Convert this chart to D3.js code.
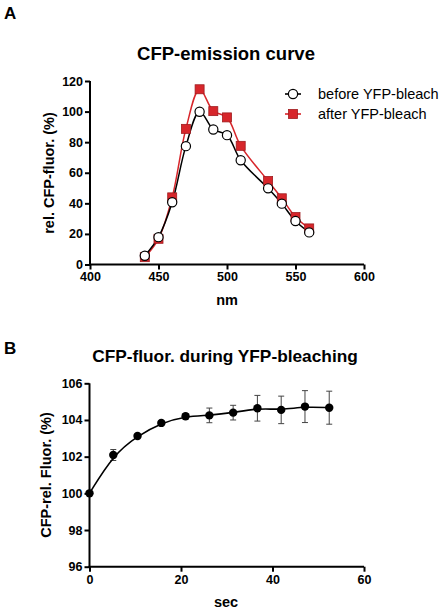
<!DOCTYPE html>
<html><head><meta charset="utf-8">
<script src="https://cdn.jsdelivr.net/npm/d3@7"></script>
<style>
html,body{margin:0;padding:0;background:#fff;}
svg{display:block;font-family:"Liberation Sans",Arial,sans-serif;}
</style></head><body>
<svg id="c" width="446" height="611"></svg>
<script>
// Panel A data
const wavelengths = [440,450,460,470,480,490,500,510,530,540,550,560];
const beforeBleach = [5.7,17.9,40.7,77.4,99.9,88.3,84.6,68.2,49.8,39.8,28.4,21.0];
const afterBleach  = [4.8,16.8,43.9,88.7,114.6,100.3,96.2,77.6,54.6,43.3,31.0,23.6];
const seriesNames = ["before YFP-bleach","after YFP-bleach"];
const xTicksA = [400,450,500,550,600];
const yTicksA = [0,20,40,60,80,100,120];

// Panel B data
const timeSec = [0,5.2,10.5,15.7,21.0,26.2,31.4,36.7,41.9,47.1,52.4];
const relFluor = [100,102.09,103.13,103.84,104.2,104.25,104.4,104.64,104.55,104.73,104.67];
const relFluorErr = [0,0.3,0.1,0.1,0.15,0.4,0.4,0.7,0.75,0.87,0.9];
const xTicksB = [0,20,40,60];
const yTicksB = [96,98,100,102,104,106];

const svg = d3.select("#c");
const red = "#d7262b", redDark = "#a01c1f";

function axes(g, x, y, xt, yt){
  const x0 = x.range()[0], x1 = x.range()[1], y0 = y.range()[0], y1 = y.range()[1];
  const ya = g.append("g").attr("transform","translate(" + x0 + ",0)")
    .call(d3.axisLeft(y).tickValues(yt).tickSize(5).tickSizeOuter(0).tickPadding(2).tickFormat(d3.format("d")));
  const xa = g.append("g").attr("transform","translate(0," + y0 + ")")
    .call(d3.axisBottom(x).tickValues(xt).tickSize(5).tickSizeOuter(0).tickPadding(3).tickFormat(d3.format("d")));
  [ya,xa].forEach(a=>{
    a.select(".domain").remove();
    a.selectAll(".tick line").attr("stroke","#000").attr("stroke-width",2);
    a.selectAll(".tick text").attr("fill","#000").attr("font-size",12.5).attr("font-weight","bold")
      .attr("font-family","Liberation Sans, Arial, sans-serif");
  });
  g.append("line").attr("x1",x0).attr("x2",x0).attr("y1",y1).attr("y2",y0+1)
    .attr("stroke","#000").attr("stroke-width",2);
  g.append("line").attr("x1",x0-1).attr("x2",x1).attr("y1",y0).attr("y2",y0)
    .attr("stroke","#000").attr("stroke-width",2);
}

// ---- Panel A ----
const gA = svg.append("g");
const xA = d3.scaleLinear().domain([400,600]).range([90,364]);
const yA = d3.scaleLinear().domain([0,120]).range([264.5,81]);
svg.append("text").attr("x",4).attr("y",19).text("A").attr("font-size",17).attr("font-weight","bold");
svg.append("text").attr("x",226).attr("y",60).attr("text-anchor","middle").attr("font-size",18.5).attr("font-weight","bold").text("CFP-emission curve");

const lineA = d3.line().x(d=>xA(d[0])).y(d=>yA(d[1])).curve(d3.curveCatmullRom.alpha(0.5));
const dBefore = wavelengths.map((w,i)=>[w,beforeBleach[i]]);
const dAfter = wavelengths.map((w,i)=>[w,afterBleach[i]]);
gA.append("path").datum(dAfter).attr("d",lineA).attr("fill","none").attr("stroke",red).attr("stroke-width",1.5);
gA.append("path").datum(dBefore).attr("d",lineA).attr("fill","none").attr("stroke","#000").attr("stroke-width",1.5);
gA.selectAll("rect.a").data(dAfter).join("rect").attr("class","a")
  .attr("x",d=>xA(d[0])-4.5).attr("y",d=>yA(d[1])-4.5).attr("width",9).attr("height",9)
  .attr("fill",red).attr("stroke",redDark).attr("stroke-width",0.8);
gA.selectAll("circle.b").data(dBefore).join("circle").attr("class","b")
  .attr("cx",d=>xA(d[0])).attr("cy",d=>yA(d[1])).attr("r",4.6)
  .attr("fill","#fff").attr("stroke","#000").attr("stroke-width",1.2);
axes(gA,xA,yA,xTicksA,yTicksA);
svg.append("text").attr("transform","translate(54,173) rotate(-90)").attr("text-anchor","middle")
  .attr("font-size",14.5).attr("font-weight","bold").text("rel. CFP-fluor. (%)");
svg.append("text").attr("x",227).attr("y",305).attr("text-anchor","middle")
  .attr("font-size",14.5).attr("font-weight","bold").text("nm");

// legend
const leg = svg.append("g");
seriesNames.forEach((n,i)=>{
  const yy = 94 + i*20;
  leg.append("line").attr("x1",285).attr("x2",301).attr("y1",yy).attr("y2",yy)
    .attr("stroke",i?red:"#000").attr("stroke-width",1.6);
  if(i===0) leg.append("circle").attr("cx",293).attr("cy",yy).attr("r",4.6).attr("fill","#fff").attr("stroke","#000").attr("stroke-width",1.2);
  else leg.append("rect").attr("x",288.5).attr("y",yy-4.5).attr("width",9).attr("height",9).attr("fill",red).attr("stroke",redDark).attr("stroke-width",0.8);
  leg.append("text").attr("x",318).attr("y",yy+5).attr("font-size",14.5).text(n);
});

// ---- Panel B ----
const gB = svg.append("g");
const xB = d3.scaleLinear().domain([0,60]).range([89.5,364]);
const yB = d3.scaleLinear().domain([96,106]).range([566.7,383.3]);
svg.append("text").attr("x",4).attr("y",354).text("B").attr("font-size",17).attr("font-weight","bold");
svg.append("text").attr("x",225).attr("y",362).attr("text-anchor","middle").attr("font-size",17.3).attr("font-weight","bold").text("CFP-fluor. during YFP-bleaching");

const dB = timeSec.map((t,i)=>[t,relFluor[i],relFluorErr[i]]);
const lineB = d3.line().x(d=>xB(d[0])).y(d=>yB(d[1])).curve(d3.curveBasis);
// error bars
const eb = gB.selectAll("g.eb").data(dB.filter(d=>d[2]>0)).join("g").attr("class","eb");
eb.append("line").attr("x1",d=>xB(d[0])).attr("x2",d=>xB(d[0])).attr("y1",d=>yB(d[1]-d[2])).attr("y2",d=>yB(d[1]+d[2])).attr("stroke","#444").attr("stroke-width",1);
eb.append("line").attr("x1",d=>xB(d[0])-3).attr("x2",d=>xB(d[0])+3).attr("y1",d=>yB(d[1]-d[2])).attr("y2",d=>yB(d[1]-d[2])).attr("stroke","#444").attr("stroke-width",1);
eb.append("line").attr("x1",d=>xB(d[0])-3).attr("x2",d=>xB(d[0])+3).attr("y1",d=>yB(d[1]+d[2])).attr("y2",d=>yB(d[1]+d[2])).attr("stroke","#444").attr("stroke-width",1);
gB.append("path").datum(dB).attr("d",lineB).attr("fill","none").attr("stroke","#000").attr("stroke-width",1.6);
gB.selectAll("circle").data(dB).join("circle").attr("cx",d=>xB(d[0])).attr("cy",d=>yB(d[1])).attr("r",4.2).attr("fill","#000");
axes(gB,xB,yB,xTicksB,yTicksB);
svg.append("text").attr("transform","translate(51,475) rotate(-90)").attr("text-anchor","middle")
  .attr("font-size",14.5).attr("font-weight","bold").text("CFP-rel. Fluor. (%)");
svg.append("text").attr("x",226).attr("y",607).attr("text-anchor","middle")
  .attr("font-size",14.5).attr("font-weight","bold").text("sec");
</script>
</body></html>
